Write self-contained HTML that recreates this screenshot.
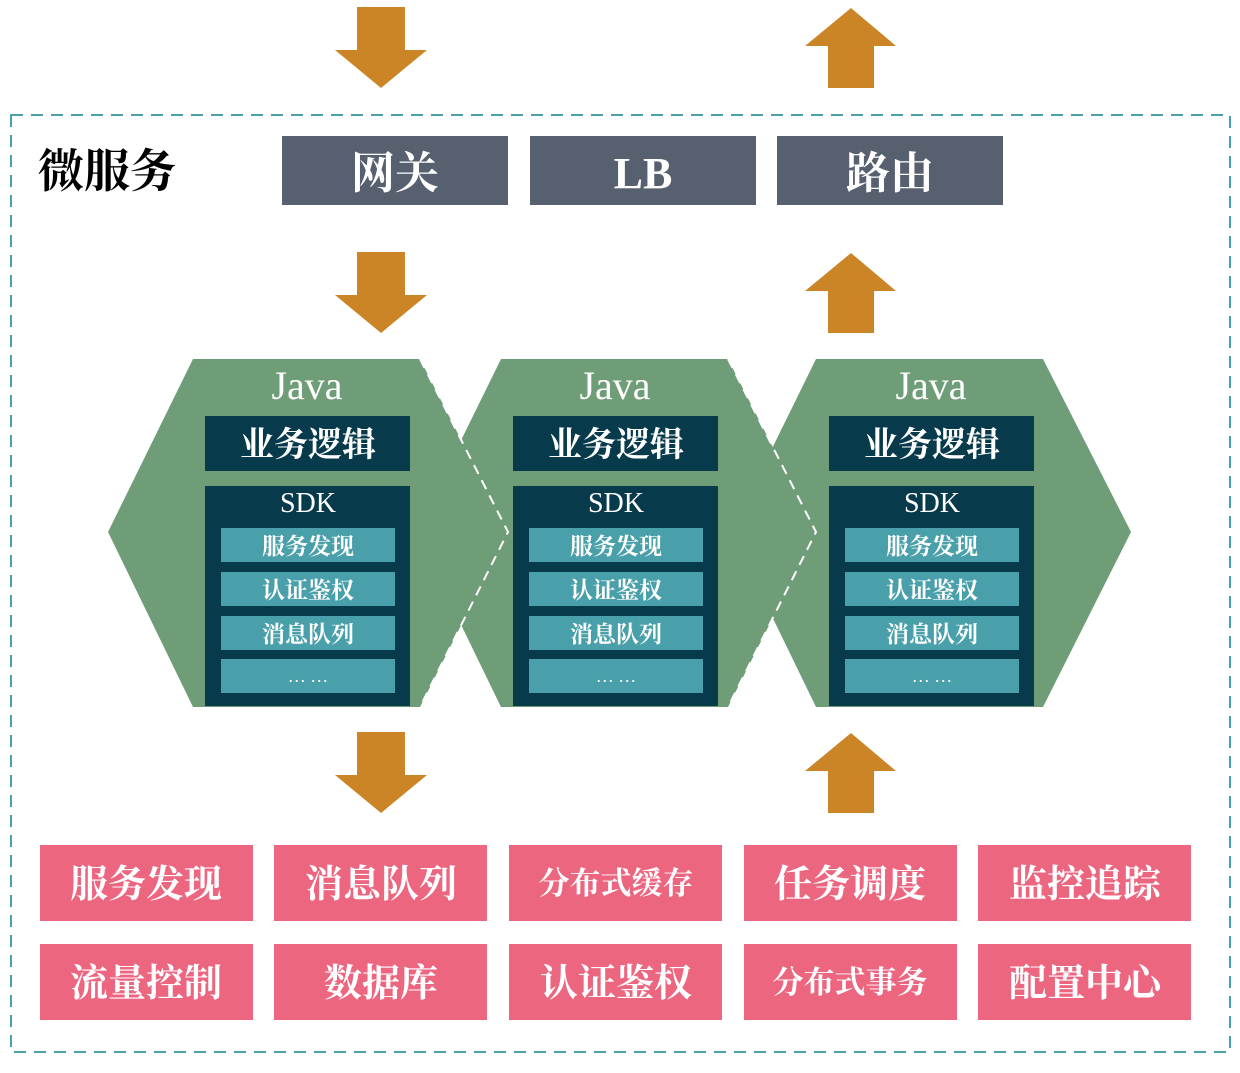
<!DOCTYPE html>
<html><head><meta charset="utf-8"><style>
body{margin:0;background:#fff;}
svg text{font-family:"Liberation Serif","Noto Serif CJK SC",serif;}
</style></head><body>
<svg width="1240" height="1068" viewBox="0 0 1240 1068" xmlns="http://www.w3.org/2000/svg">
<rect x="11" y="115" width="1219" height="937" fill="none" stroke="#4aa0aa" stroke-width="2" stroke-dasharray="12,8"/>
<defs>
<polygon id="dn" points="357,7 405,7 405,50 427,50 381,88 335,50 357,50" fill="#cb8526"/>
<polygon id="up" points="828,88 874,88 874,46 896,46 851,8 805,46 828,46" fill="#cb8526"/>
</defs>
<use href="#dn"/><use href="#up"/>
<use href="#dn" y="245"/><use href="#up" y="245"/>
<use href="#dn" y="725"/><use href="#up" y="725"/>
<text x="38" y="187" font-size="46" font-weight="bold" fill="#000">微服务</text>
<g fill="#56606f">
<rect x="282" y="136" width="226" height="69"/><rect x="530" y="136" width="226" height="69"/><rect x="777" y="136" width="226" height="69"/></g>
<g fill="#fff" font-size="44" text-anchor="middle" font-weight="bold">
<text x="395" y="188">网关</text><text x="643" y="188">LB</text><text x="890" y="188">路由</text></g>
<g fill="#6f9d78">
<polygon points="193,359 420,359 508,532 420,707 193,707 108,532"/>
<polygon points="501,359 728,359 816,532 728,707 501,707 416,532"/>
<polygon points="816,359 1043,359 1131,532 1043,707 816,707 731,532"/>
</g>
<g fill="none" stroke="#fff" stroke-width="2" stroke-dasharray="10,7">
<polyline points="420,359 508,532 420,707"/>
<polyline points="728,359 816,532 728,707"/>
</g>
<g id="stack">
<rect x="205" y="416" width="205" height="55" fill="#073a4b"/>
<rect x="205" y="486" width="205" height="220" fill="#073a4b"/>
<g fill="#4aa0aa">
<rect x="221" y="528" width="174" height="34"/><rect x="221" y="572" width="174" height="34"/>
<rect x="221" y="616" width="174" height="34"/><rect x="221" y="659" width="174" height="34"/></g>
<g fill="#fff" text-anchor="middle">
<text x="307" y="399" font-size="40">Java</text>
<text x="308" y="456" font-size="34" font-weight="bold">业务逻辑</text>
<text x="308" y="512" font-size="28">SDK</text>
<g font-weight="bold">
<text x="308" y="554" font-size="23">服务发现</text>
<text x="308" y="598" font-size="23">认证鉴权</text>
<text x="308" y="642" font-size="23">消息队列</text></g>
<text x="308" y="682" font-size="18">… …</text></g>
</g>
<use href="#stack" x="308"/><use href="#stack" x="624"/>
<g fill="#ec6680">
<rect x="40" y="845" width="213" height="76"/><rect x="274" y="845" width="213" height="76"/><rect x="509" y="845" width="213" height="76"/><rect x="744" y="845" width="213" height="76"/><rect x="978" y="845" width="213" height="76"/>
<rect x="40" y="944" width="213" height="76"/><rect x="274" y="944" width="213" height="76"/><rect x="509" y="944" width="213" height="76"/><rect x="744" y="944" width="213" height="76"/><rect x="978" y="944" width="213" height="76"/>
</g>
<g fill="#fff" text-anchor="middle" font-size="38" font-weight="bold">
<text x="146" y="897">服务发现</text><text x="381" y="897">消息队列</text><text x="616" y="894" font-size="31">分布式缓存</text><text x="850" y="897">任务调度</text><text x="1085" y="897">监控追踪</text>
<text x="146" y="996">流量控制</text><text x="381" y="996">数据库</text><text x="616" y="996">认证鉴权</text><text x="850" y="993" font-size="31">分布式事务</text><text x="1085" y="996">配置中心</text>
</g>
</svg>
</body></html>
